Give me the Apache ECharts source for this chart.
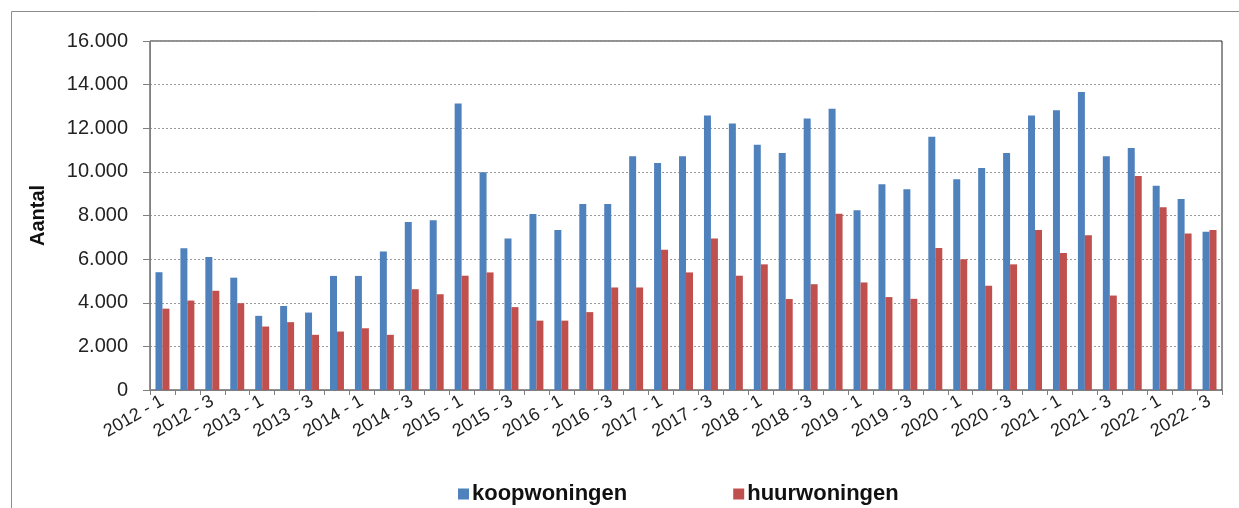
<!DOCTYPE html>
<html>
<head>
<meta charset="utf-8">
<script src="https://cdn.jsdelivr.net/npm/echarts@6/dist/echarts.min.js"></script>
<style>
  html, body { margin: 0; padding: 0; background: #fff; }
  #chart { width: 1239px; height: 508px; }
</style>
</head>
<body>
<div id="chart"></div>
<script>
// kwartalen 2012 - 1 t/m 2022 - 3
const quarters = []
for (let y = 2012; y <= 2022; y++) {
  for (let q = 1; q <= 4; q++) {
    if (y === 2022 && q > 3) break
    quarters.push(y + ' - ' + q)
  }
}

const koopwoningen = [
  5400, 6500, 6100, 5150, 3400, 3850, 3550, 5230, 5230, 6350,
  7700, 7780, 13130, 9980, 6950, 8070, 7330, 8530, 8530, 10720,
  10410, 10720, 12590, 12220, 11240, 10870, 12450, 12890, 8240, 9430,
  9200, 11610, 9660, 10180, 10870, 12590, 12830, 13660, 10720, 11100,
  9360, 8760, 7260
]

const huurwoningen = [
  3730, 4100, 4550, 3980, 2910, 3110, 2530, 2680, 2830, 2530,
  4620, 4390, 5240, 5390, 3800, 3180, 3180, 3570, 4700, 4700,
  6430, 5390, 6950, 5240, 5760, 4170, 4850, 8080, 4930, 4260,
  4180, 6510, 5990, 4780, 5760, 7330, 6280, 7100, 4330, 9810,
  8380, 7180, 7330
]

const yTicks = [0, 2000, 4000, 6000, 8000, 10000, 12000, 14000, 16000]

const chart = echarts.init(document.getElementById('chart'))

const option = {
  animation: false,
  textStyle: { fontFamily: 'Liberation Sans, Arial, sans-serif' },
  graphic: [
    { // kader rond de grafiek
      type: 'polyline',
      shape: { points: [[11.5, 508], [11.5, 11.5], [1239, 11.5]] },
      style: { stroke: '#8c8c8c', lineWidth: 1, fill: null }
    }
  ],
  grid: {
    left: 150,
    top: 41,
    width: 1072,
    height: 349,
    show: true,
    borderColor: '#222',
    borderWidth: 1
  },
  legend: {
    top: 478,
    left: 453,
    itemGap: 106,
    itemWidth: 11,
    itemHeight: 11,
    icon: 'rect',
    textStyle: { fontSize: 22, fontWeight: 'bold', color: '#111', padding: [0, 0, 0, -2] },
    data: ['koopwoningen', 'huurwoningen']
  },
  xAxis: {
    type: 'category',
    data: quarters,
    boundaryGap: true,
    axisLine: { lineStyle: { color: '#7f7f7f' } },
    axisTick: { show: true, length: 5, lineStyle: { color: '#7f7f7f' }, interval: 0 },
    axisLabel: {
      interval: 1,
      rotate: 30,
      fontSize: 18,
      color: '#222',
      margin: 10
    }
  },
  yAxis: {
    type: 'value',
    min: yTicks[0],
    max: yTicks[yTicks.length - 1],
    interval: 2000,
    name: 'Aantal',
    nameLocation: 'middle',
    nameGap: 102,
    nameRotate: 90,
    nameTextStyle: { fontSize: 20, fontWeight: 'bold', color: '#111' },
    axisLine: { show: true, lineStyle: { color: '#7f7f7f' } },
    axisTick: { show: true, length: 7, lineStyle: { color: '#7f7f7f' } },
    axisLabel: {
      fontSize: 20,
      color: '#222',
      margin: 22,
      formatter: v => v.toString().replace(/\B(?=(\d{3})+(?!\d))/g, '.')
    },
    splitLine: { lineStyle: { color: '#9a9a9a', type: [2, 2] } }
  },
  series: [
    {
      name: 'koopwoningen',
      type: 'bar',
      data: koopwoningen,
      itemStyle: { color: '#4f81bd' },
      barGap: '0%',
      barCategoryGap: '44%'
    },
    {
      name: 'huurwoningen',
      type: 'bar',
      data: huurwoningen,
      itemStyle: { color: '#c0504d' }
    }
  ]
}

chart.setOption(option)
</script>
</body>
</html>
